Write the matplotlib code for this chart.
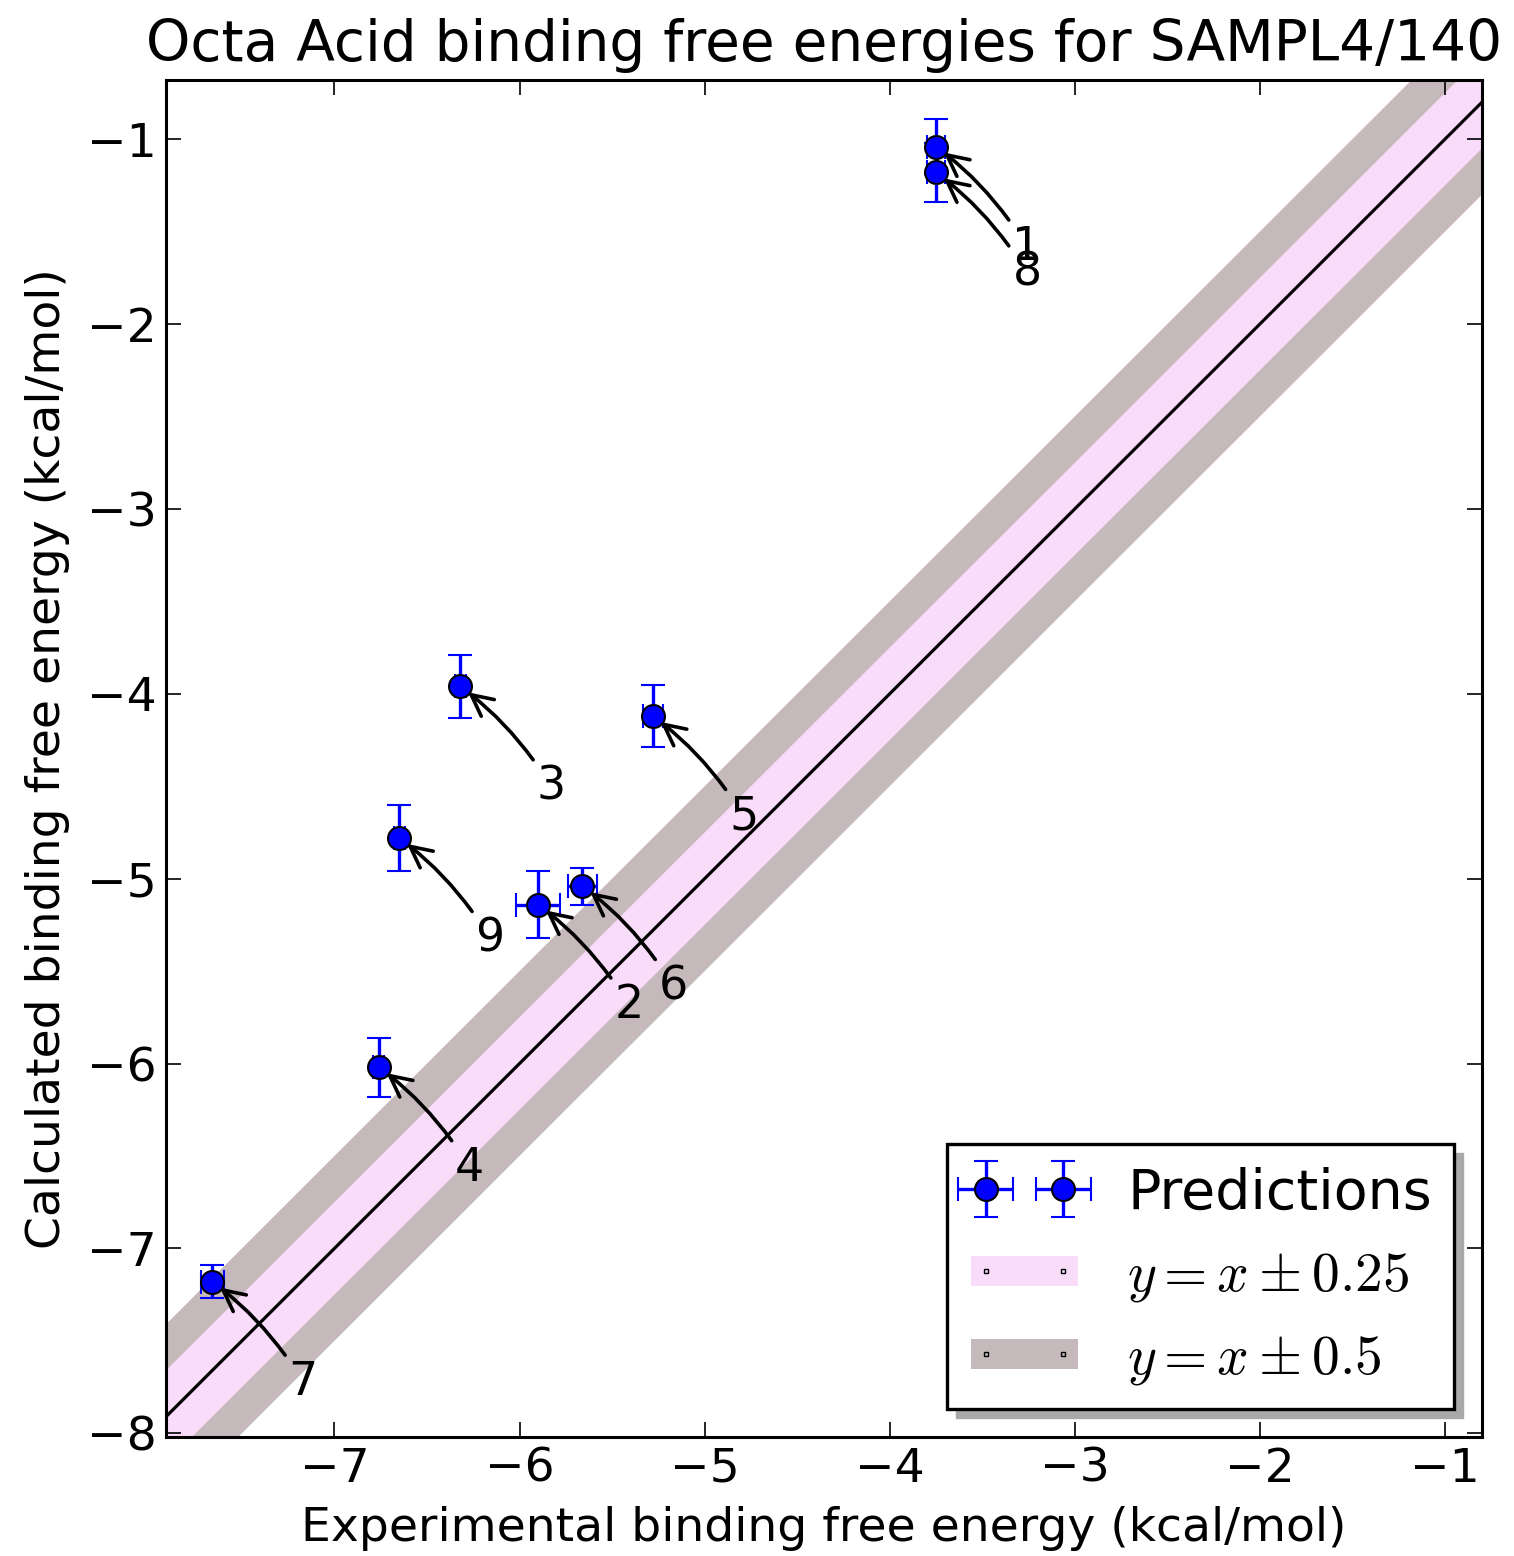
import numpy as np
import matplotlib
matplotlib.use("Agg")
import matplotlib.pyplot as plt
from matplotlib.lines import Line2D
from matplotlib.patches import Rectangle
from matplotlib.transforms import IdentityTransform

# Binding free energies (kcal/mol), one entry per guest
labels = ["1", "2", "3", "4", "5", "6", "7", "8", "9"]
exp_dg = [-3.75, -5.90, -6.32, -6.76, -5.28, -5.66, -7.66, -3.75, -6.65]
exp_err = [0.05, 0.12, 0.03, 0.03, 0.055, 0.08, 0.063, 0.05, 0.03]
calc_dg = [-1.04, -5.14, -3.96, -6.02, -4.12, -5.04, -7.18, -1.18, -4.78]
calc_err = [0.15, 0.18, 0.17, 0.16, 0.17, 0.10, 0.09, 0.16, 0.18]

x_range = [-7.91, -0.80]
y_range = [-8.02, -0.68]
band_inner = 0.25
band_outer = 0.5

PINK = "#f9dcf9"
GREY = "#c6b9bb"

plt.rcParams["mathtext.fontset"] = "cm"
plt.rcParams["font.family"] = "DejaVu Sans"

fig = plt.figure(figsize=(15.14, 15.56), dpi=100)
ax = fig.add_axes([166 / 1514, 1 - 1437 / 1556, 1316 / 1514, 1357 / 1556])

# y = x with the two tolerance bands
xs = np.array([-9.0, 0.0])
ax.fill_between(xs, xs - band_outer, xs + band_outer, color=GREY, lw=0, zorder=1)
ax.fill_between(xs, xs - band_inner, xs + band_inner, color=PINK, lw=0, zorder=1)
ax.plot(xs, xs, color="black", lw=2.3, zorder=2)

eb = ax.errorbar(exp_dg, calc_dg, xerr=exp_err, yerr=calc_err, fmt="o",
                 color="blue", ecolor="blue", mfc="blue", mec="black",
                 mew=1.5, ms=16.5, elinewidth=2.4, capsize=8.3, capthick=2.4,
                 zorder=3)

# label each point with a curved arrow
for lab, x, y in zip(labels, exp_dg, calc_dg):
    ax.annotate(lab, xy=(x, y), xytext=(65.5, -72.7), textcoords="offset points",
                ha="center", va="center", fontsize=33, zorder=4,
                arrowprops=dict(arrowstyle="->", connectionstyle="arc3,rad=0.1",
                                lw=2.6, color="black", shrinkB=7,
                                mutation_scale=38))

ax.set_xlim(x_range)
ax.set_ylim(y_range)
ax.set_xticks(np.arange(-7, 0))
ax.set_yticks(np.arange(-8, 0))
ax.tick_params(direction="in", length=11, width=1.2, top=True, right=True,
               labelsize=34, pad=7)
for sp in ax.spines.values():
    sp.set_linewidth(2.2)

ax.set_xlabel("Experimental binding free energy (kcal/mol)", fontsize=34,
              labelpad=10)
ax.set_ylabel("Calculated binding free energy (kcal/mol)", fontsize=34,
              labelpad=12)
ax.set_title("Octa Acid binding free energies for SAMPL4/140", fontsize=40.7,
             pad=14)

# legend with proxy artists for the bands
h_inner = Line2D([0], [0], color=PINK, lw=21.6, solid_capstyle="projecting",
                 marker="s", ms=3, mfc=PINK, mec="black", mew=1)
h_outer = Line2D([0], [0], color=GREY, lw=21.6, solid_capstyle="projecting",
                 marker="s", ms=3, mfc=GREY, mec="black", mew=1)
leg = ax.legend([eb, h_inner, h_outer],
                ["Predictions", r"$y = x \pm 0.25$", r"$y = x \pm 0.5$"],
                loc="lower right", numpoints=2, fontsize=40, fancybox=False,
                edgecolor="black", framealpha=1, handletextpad=0.85)
leg.get_frame().set_linewidth(2.4)
leg.set_zorder(5)

# old-style offset shadow behind the legend box
fig.canvas.draw()
bb = leg.get_window_extent()
shadow = Rectangle((bb.x0 + 9, bb.y0 - 9), bb.width, bb.height,
                   transform=IdentityTransform(), color="#a9a9a9",
                   zorder=4.9, clip_on=False)
ax.add_artist(shadow)

fig.savefig("out.png", dpi=100)
